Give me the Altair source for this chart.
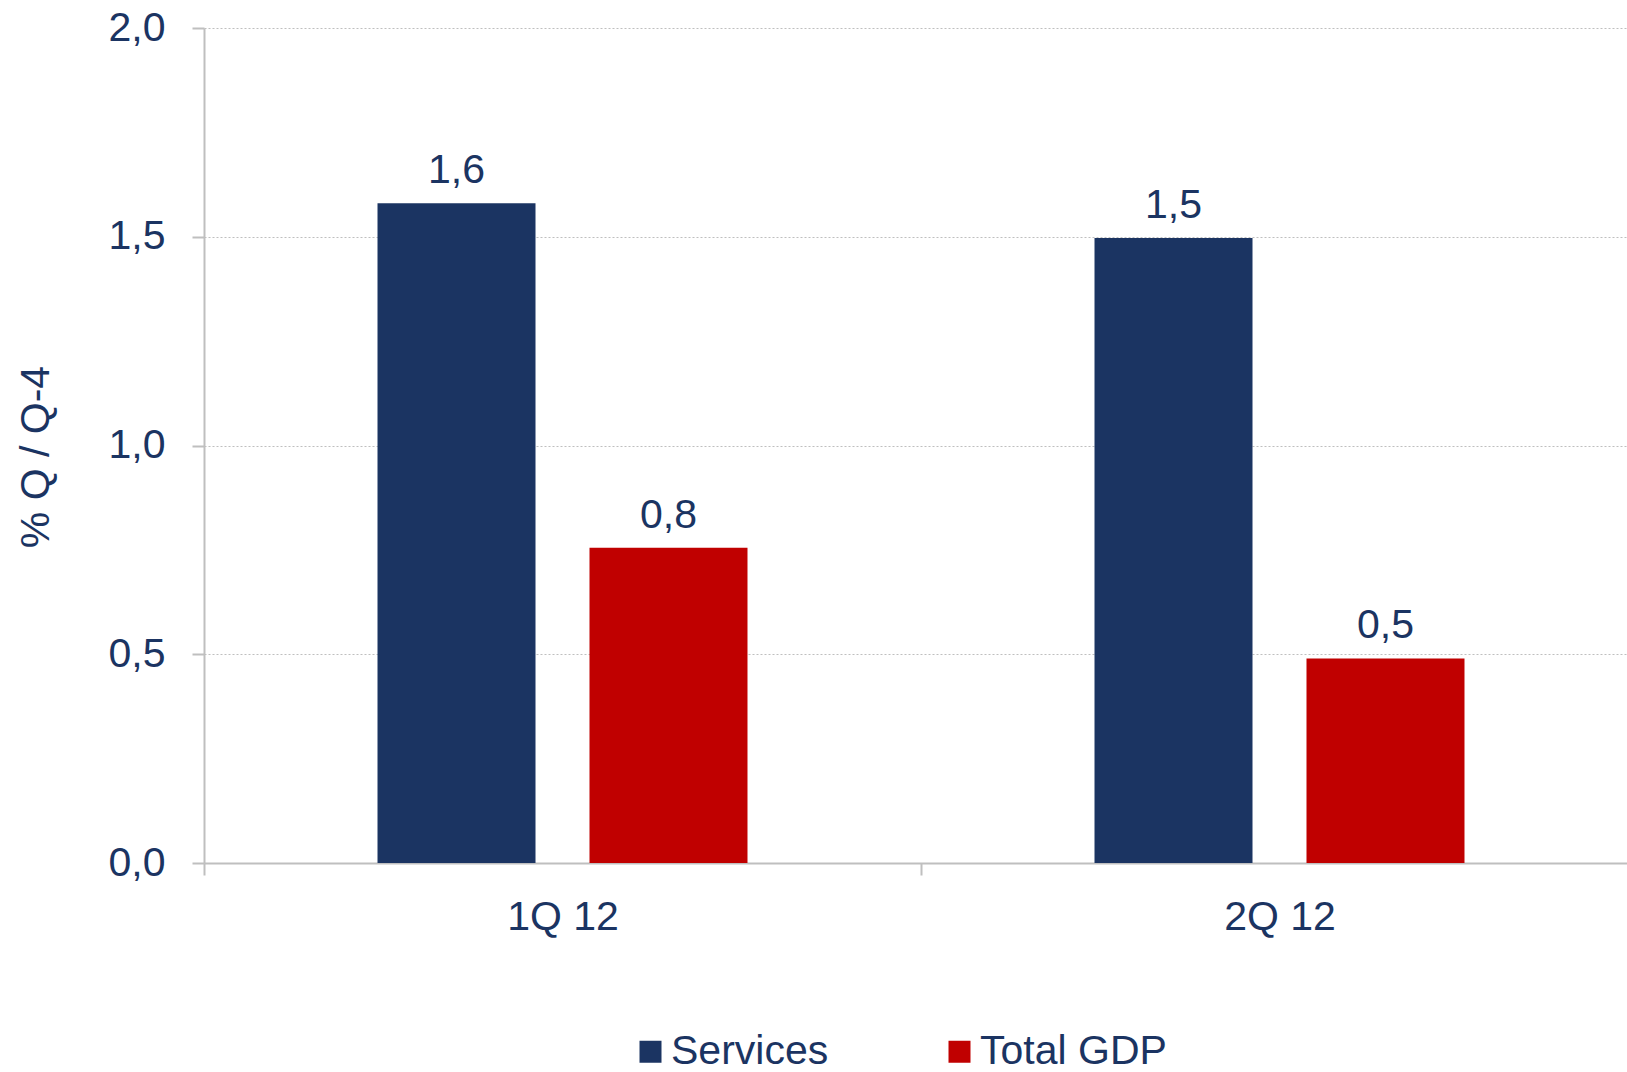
import altair as alt
import pandas as pd

quarters = ["1Q 12", "2Q 12"]
series_names = ["Services", "Total GDP"]
services = [1.58, 1.497]
total_gdp = [0.755, 0.49]
colors = ["#1B3462", "#C00000"]

rows = []
for i, q in enumerate(quarters):
    rows.append({"quarter": q, "series": "Services", "value": services[i]})
    rows.append({"quarter": q, "series": "Total GDP", "value": total_gdp[i]})
df = pd.DataFrame(rows)

TXT = "#1B3462"
GRAY = "#BFBFBF"
FONT = "Liberation Sans"
FS = 41

x_enc = alt.X(
    "quarter:N",
    sort=quarters,
    scale=alt.Scale(range=[0, 1434], paddingInner=0, paddingOuter=0),
    axis=alt.Axis(
        title=None,
        labelAngle=0,
        labelFontSize=FS,
        labelFont=FONT,
        labelColor=TXT,
        labelBaseline="alphabetic",
        labelPadding=54,
        tickSize=12,
        tickWidth=2,
        tickColor=GRAY,
        tickBand="extent",
        domainColor=GRAY,
        domainWidth=2,
        grid=False,
    ),
)
xoff = alt.XOffset(
    "series:N",
    sort=series_names,
    scale=alt.Scale(paddingInner=0.2547, paddingOuter=0.8185),
)
y_enc = alt.Y(
    "value:Q",
    scale=alt.Scale(domain=[0, 2], nice=False),
    axis=alt.Axis(
        values=[0, 0.5, 1, 1.5, 2],
        labelExpr="replace(format(datum.value, '.1f'), '.', ',')",
        labelFontSize=FS,
        labelFont=FONT,
        labelColor=TXT,
        labelPadding=27,
        tickSize=12,
        tickWidth=2,
        tickColor=GRAY,
        domainColor=GRAY,
        domainWidth=2,
        grid=True,
        gridColor=GRAY,
        gridDash=[2, 2],
        gridWidth=1,
        title="% Q / Q-4",
        titleFont=FONT,
        titleFontSize=FS,
        titleFontWeight="normal",
        titleColor=TXT,
        titleAngle=270,
        titleAlign="center",
        titleBaseline="alphabetic",
        titleX=-156,
        titleY=428.5,
    ),
)

color_enc = alt.Color(
    "series:N",
    sort=series_names,
    scale=alt.Scale(domain=series_names, range=colors),
    legend=alt.Legend(
        title=None,
        orient="none",
        direction="horizontal",
        legendX=426,
        legendY=1003,
        symbolType="square",
        symbolSize=484,
        symbolStrokeWidth=0,
        labelFontSize=FS,
        labelFont=FONT,
        labelColor=TXT,
        labelOffset=0,
        labelLimit=1000,
        columnPadding=110,
        padding=0,
    ),
)

base = alt.Chart(df)
bars = base.mark_bar(size=158).encode(x=x_enc, xOffset=xoff, y=y_enc, color=color_enc)
text = base.transform_calculate(
    lbl="replace(format(datum.value, '.1f'), '.', ',')"
).mark_text(
    dy=-20, baseline="alphabetic", align="center", fontSize=FS, font=FONT, color=TXT
).encode(x=alt.X("quarter:N", sort=quarters), xOffset=xoff, y="value:Q", text="lbl:N")

chart = (
    alt.layer(bars, text)
    .properties(
        width=1423,
        height=835,
        autosize=alt.AutoSizeParams(type="none"),
        padding={"left": 204, "top": 28, "right": 0, "bottom": 209},
    )
    .configure_view(stroke=None)
)

chart.save("out.html", embed_options={"renderer": "svg", "actions": False})
